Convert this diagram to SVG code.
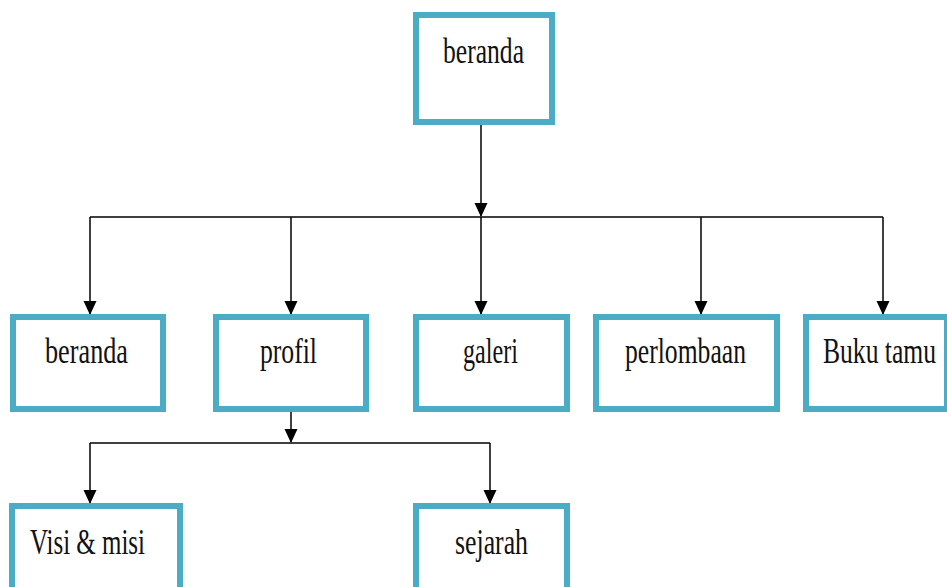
<svg xmlns="http://www.w3.org/2000/svg" width="947" height="587" viewBox="0 0 947 587">
<defs>
<style>
.box{fill:#ffffff;stroke:#4bacc6;stroke-width:6}
.lbl{font-family:"Liberation Serif","Times New Roman",serif;font-size:35px;fill:#111111}
.ln{stroke:#000000;stroke-width:1.5;fill:none}
</style>
<marker id="arr" markerUnits="userSpaceOnUse" markerWidth="14" markerHeight="16" refX="13" refY="6.5" orient="auto">
<path d="M0,0 L14,6.5 L0,13 Z" fill="#000000"/>
</marker>
</defs>
<rect width="947" height="587" fill="#ffffff"/>
<g id="connectors">
<line class="ln" x1="481" y1="125" x2="481" y2="216" marker-end="url(#arr)"/>
<line class="ln" x1="90" y1="217" x2="883" y2="217"/>
<line class="ln" x1="90" y1="217" x2="90" y2="314" marker-end="url(#arr)"/>
<line class="ln" x1="291" y1="217" x2="291" y2="314" marker-end="url(#arr)"/>
<line class="ln" x1="481" y1="217" x2="481" y2="314" marker-end="url(#arr)"/>
<line class="ln" x1="701" y1="217" x2="701" y2="314" marker-end="url(#arr)"/>
<line class="ln" x1="883" y1="217" x2="883" y2="314" marker-end="url(#arr)"/>
<line class="ln" x1="291" y1="412" x2="291" y2="442" marker-end="url(#arr)"/>
<line class="ln" x1="90" y1="443" x2="490" y2="443"/>
<line class="ln" x1="90" y1="443" x2="90" y2="503" marker-end="url(#arr)"/>
<line class="ln" x1="490" y1="443" x2="490" y2="503" marker-end="url(#arr)"/>
</g>
<g id="root">
<rect class="box" x="416" y="15" width="136" height="107"/>
<text class="lbl" x="443" y="63" textLength="81" lengthAdjust="spacingAndGlyphs">beranda</text>
</g>
<g id="beranda">
<rect class="box" x="13" y="317" width="150" height="92"/>
<text class="lbl" x="45" y="363" textLength="83" lengthAdjust="spacingAndGlyphs">beranda</text>
</g>
<g id="profil">
<rect class="box" x="216" y="317" width="150" height="92"/>
<text class="lbl" x="260" y="363" textLength="57" lengthAdjust="spacingAndGlyphs">profil</text>
</g>
<g id="galeri">
<rect class="box" x="416" y="317" width="151" height="92"/>
<text class="lbl" x="463" y="363" textLength="55" lengthAdjust="spacingAndGlyphs">galeri</text>
</g>
<g id="perlombaan">
<rect class="box" x="596" y="317" width="181" height="92"/>
<text class="lbl" x="625" y="363" textLength="121" lengthAdjust="spacingAndGlyphs">perlombaan</text>
</g>
<g id="bukutamu">
<rect class="box" x="806" y="317" width="141" height="92"/>
<text class="lbl" x="823" y="363" textLength="113" lengthAdjust="spacingAndGlyphs">Buku tamu</text>
</g>
<g id="visimisi">
<rect class="box" x="12" y="506" width="168" height="100"/>
<text class="lbl" x="30" y="554" textLength="115" lengthAdjust="spacingAndGlyphs">Visi &amp; misi</text>
</g>
<g id="sejarah">
<rect class="box" x="416" y="506" width="151" height="100"/>
<text class="lbl" x="455" y="554" textLength="73" lengthAdjust="spacingAndGlyphs">sejarah</text>
</g>
</svg>
